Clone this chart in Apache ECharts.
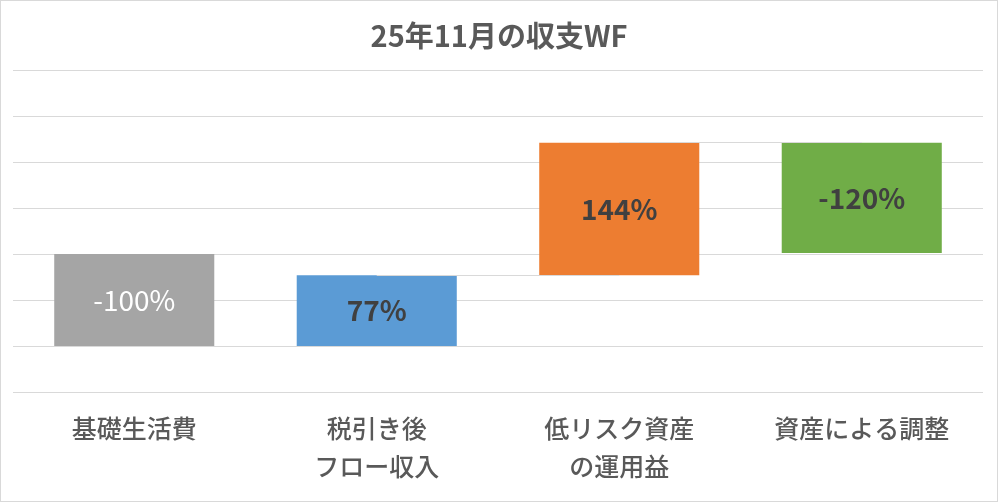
<!DOCTYPE html>
<html>
<head>
<meta charset="utf-8">
<script src="https://cdn.jsdelivr.net/npm/echarts@6/dist/echarts.min.js"></script>
<style>
  html, body { margin: 0; padding: 0; background: #fff; }
  #main { width: 996px; height: 500px; border: 1px solid #d9d9d9; }
</style>
</head>
<body>
<div id="main"></div>
<script>
// 費目
var categories = ['基礎生活費', '税引き後\nフロー収入', '低リスク資産\nの運用益', '資産による調整'];
// 棒の下端（見えない部分）
var baseValues = [0, 0, 77, 101];
// 棒の長さ
var barValues = [100, 77, 144, 120];
// ラベル
var barLabels = ['-100%', '77%', '144%', '-120%'];
var barColors = ['#a5a5a5', '#5b9bd5', '#ed7d31', '#70ad47'];
// 軸の目盛り
var yMin = -50, yMax = 300, yStep = 50;

var chart = echarts.init(document.getElementById('main'));

var option = {
  animation: false,
  title: {
    text: '25年11月の収支WF',
    left: 'center',
    top: 15,
    textStyle: {
      fontFamily: 'Noto Sans CJK JP',
      fontSize: 29,
      fontWeight: 'bold',
      color: '#595959'
    }
  },
  grid: { left: 12, right: 14, top: 69, bottom: 109 },
  xAxis: {
    type: 'category',
    data: categories,
    axisLine: { show: false },
    axisTick: { show: false },
    axisLabel: {
      margin: 17,
      fontFamily: 'Noto Sans CJK JP',
      fontSize: 25,
      fontWeight: 500,
      lineHeight: 38,
      color: '#595959',
      verticalAlign: 'top'
    }
  },
  yAxis: {
    type: 'value',
    min: yMin,
    max: yMax,
    interval: yStep,
    axisLabel: { show: false },
    axisLine: { show: false },
    axisTick: { show: false },
    splitLine: { lineStyle: { color: '#d9d9d9', width: 1 } }
  },
  series: [
    {
      type: 'bar',
      stack: 'wf',
      data: baseValues,
      itemStyle: { color: 'transparent' },
      barCategoryGap: '34%',
      silent: true,
      markLine: {
        symbol: 'none',
        silent: true,
        label: { show: false },
        lineStyle: { color: '#d9d9d9', type: 'solid', width: 1 },
        data: [
          [{ coord: [1, baseValues[1] + barValues[1]] }, { coord: [2, baseValues[2]] }],
          [{ coord: [2, baseValues[2] + barValues[2]] }, { coord: [3, baseValues[3] + barValues[3]] }]
        ]
      }
    },
    {
      type: 'bar',
      stack: 'wf',
      z: 3,
      data: barValues.map(function (v, i) {
        return {
          value: v,
          itemStyle: { color: barColors[i] },
          label: i === 0
            ? { color: '#ffffff', fontWeight: 'normal' }
            : { color: '#404040', fontWeight: 'bold' }
        };
      }),
      label: {
        show: true,
        position: 'inside',
        fontFamily: 'Noto Sans CJK JP',
        fontSize: 28,
        formatter: function (p) { return barLabels[p.dataIndex]; }
      }
    }
  ]
};

chart.setOption(option);
</script>
</body>
</html>
